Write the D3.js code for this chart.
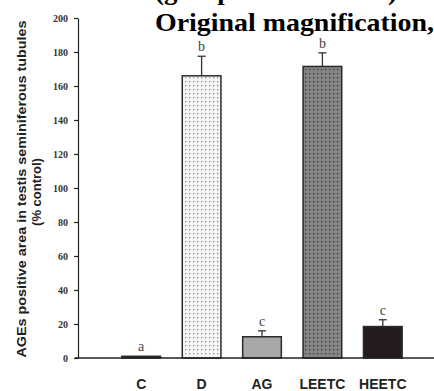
<!DOCTYPE html>
<html>
<head>
<meta charset="utf-8">
<script src="https://cdn.jsdelivr.net/npm/d3@7"></script>
<style>
  html, body { margin: 0; padding: 0; background: #fff; }
  svg { display: block; }
</style>
</head>
<body>
<div id="chart"></div>
<script>
'use strict';

const groups = ['C', 'D', 'AG', 'LEETC', 'HEETC'];
const means = [1, 166, 12.5, 171.5, 18.5];
const errors = [0, 11.5, 3.5, 8, 4];
const letters = ['a', 'b', 'c', 'b', 'c'];
const yTicks = [0, 20, 40, 60, 80, 100, 120, 140, 160, 180, 200];

const bars = groups.map((g, i) => ({
    group: g,
    mean: means[i],
    err: errors[i],
    letter: letters[i]
}));

function buildChart() {
    const width = 434;
    const height = 391;

    const axisX = 78;
    const plotTop = 18;
    const plotBottom = 358;

    const svg = d3.select('#chart')
        .append('svg')
            .attr('width', width)
            .attr('height', height);

    // fill patterns for the stippled bars
    const defs = svg.append('defs');
    const pats = [
        { id: 'dotLight', bg: '#f6f6f6', dot: '#8a8a8a' },
        { id: 'dotDark', bg: '#858585', dot: '#3a3a3a' }
    ];
    pats.forEach(p => {
        const pat = defs.append('pattern')
            .attr('id', p.id)
            .attr('patternUnits', 'userSpaceOnUse')
            .attr('width', 4)
            .attr('height', 4);
        pat.append('rect').attr('width', 4).attr('height', 4).attr('fill', p.bg);
        pat.append('rect').attr('x', 1).attr('y', 1).attr('width', 1.3).attr('height', 1.3).attr('fill', p.dot);
    });

    const fills = {
        C: '#222',
        D: 'url(#dotLight)',
        AG: '#a8a8a8',
        LEETC: 'url(#dotDark)',
        HEETC: '#241c1c'
    };

    const y = d3.scaleLinear()
        .domain([0, 200])
        .range([plotBottom, plotTop]);

    const x = d3.scaleBand()
        .domain(groups)
        .range([111, 413])
        .paddingInner(0.36)
        .paddingOuter(0.18);

    // y axis
    const yAxis = svg.append('g')
        .attr('transform', `translate(${axisX},0)`)
        .call(d3.axisLeft(y).tickValues(yTicks).tickSize(4).tickSizeOuter(0).tickPadding(6));
    yAxis.select('.domain').attr('stroke', '#222').attr('stroke-width', 1.2);
    yAxis.selectAll('.tick line').attr('stroke', '#222').attr('stroke-width', 1.2);
    yAxis.selectAll('.tick text')
        .attr('font-family', '"Liberation Serif", serif')
        .attr('font-weight', 'bold')
        .attr('font-size', 10)
        .attr('fill', '#333');

    // x axis labels
    const xAxis = svg.append('g')
        .attr('transform', `translate(0,${plotBottom})`)
        .call(d3.axisBottom(x).tickSize(0).tickPadding(21));
    xAxis.select('.domain').remove();
    xAxis.selectAll('.tick text')
        .attr('font-family', '"Liberation Sans", Arial, sans-serif')
        .attr('font-weight', 'bold')
        .attr('font-size', 14)
        .attr('fill', '#222');

    // bars
    svg.append('g')
        .selectAll('rect')
        .data(bars)
        .enter()
        .append('rect')
            .attr('x', d => x(d.group))
            .attr('y', d => y(d.mean))
            .attr('width', x.bandwidth())
            .attr('height', d => y(0) - y(d.mean))
            .attr('fill', d => fills[d.group])
            .attr('stroke', '#2a2a2a')
            .attr('stroke-width', 1.5);

    // error bars (upper only)
    const eb = svg.append('g')
        .selectAll('g')
        .data(bars.filter(d => d.err > 0))
        .enter()
        .append('g')
            .attr('stroke', '#333')
            .attr('stroke-width', 1.3);
    eb.append('line')
        .attr('x1', d => x(d.group) + x.bandwidth() / 2)
        .attr('x2', d => x(d.group) + x.bandwidth() / 2)
        .attr('y1', d => y(d.mean))
        .attr('y2', d => y(d.mean + d.err));
    eb.append('line')
        .attr('x1', d => x(d.group) + x.bandwidth() / 2 - 4)
        .attr('x2', d => x(d.group) + x.bandwidth() / 2 + 4)
        .attr('y1', d => y(d.mean + d.err))
        .attr('y2', d => y(d.mean + d.err));

    // significance letters
    svg.append('g')
        .selectAll('text')
        .data(bars)
        .enter()
        .append('text')
            .attr('x', d => x(d.group) + x.bandwidth() / 2)
            .attr('y', d => y(d.mean + d.err) - 5)
            .attr('text-anchor', 'middle')
            .attr('font-family', '"Liberation Serif", serif')
            .attr('font-size', 14)
            .attr('fill', '#444')
            .text(d => d.letter);

    // baseline
    svg.append('line')
        .attr('x1', axisX - 3)
        .attr('x2', width)
        .attr('y1', plotBottom)
        .attr('y2', plotBottom)
        .attr('stroke', '#222')
        .attr('stroke-width', 1.5);

    // y axis title
    const yTitle = svg.append('g')
        .attr('font-family', '"Liberation Sans", Arial, sans-serif')
        .attr('font-weight', 'bold')
        .attr('fill', '#222')
        .attr('text-anchor', 'middle');
    yTitle.append('text')
        .attr('transform', 'translate(26,189) rotate(-90)')
        .attr('font-size', 13)
        .attr('textLength', 337)
        .attr('lengthAdjust', 'spacingAndGlyphs')
        .text('AGEs positive area in testis seminiferous tubules');
    yTitle.append('text')
        .attr('transform', 'translate(41,192) rotate(-90)')
        .attr('font-size', 13)
        .text('(% control)');

    // overlapping caption text from the source page (top line is cropped by the frame)
    const cap = svg.append('g')
        .attr('font-family', '"Liberation Serif", serif')
        .attr('font-weight', 'bold')
        .attr('font-size', 25)
        .attr('fill', '#000');
    cap.append('text')
        .attr('x', 155)
        .attr('y', 0)
        .attr('textLength', 242)
        .attr('lengthAdjust', 'spacingAndGlyphs')
        .text('(group C to HEETC)');
    cap.append('text')
        .attr('x', 155)
        .attr('y', 31)
        .attr('textLength', 279)
        .attr('lengthAdjust', 'spacingAndGlyphs')
        .text('Original magnification,');
}

window.addEventListener('DOMContentLoaded', () => {
    buildChart();
});
</script>
</body>
</html>
